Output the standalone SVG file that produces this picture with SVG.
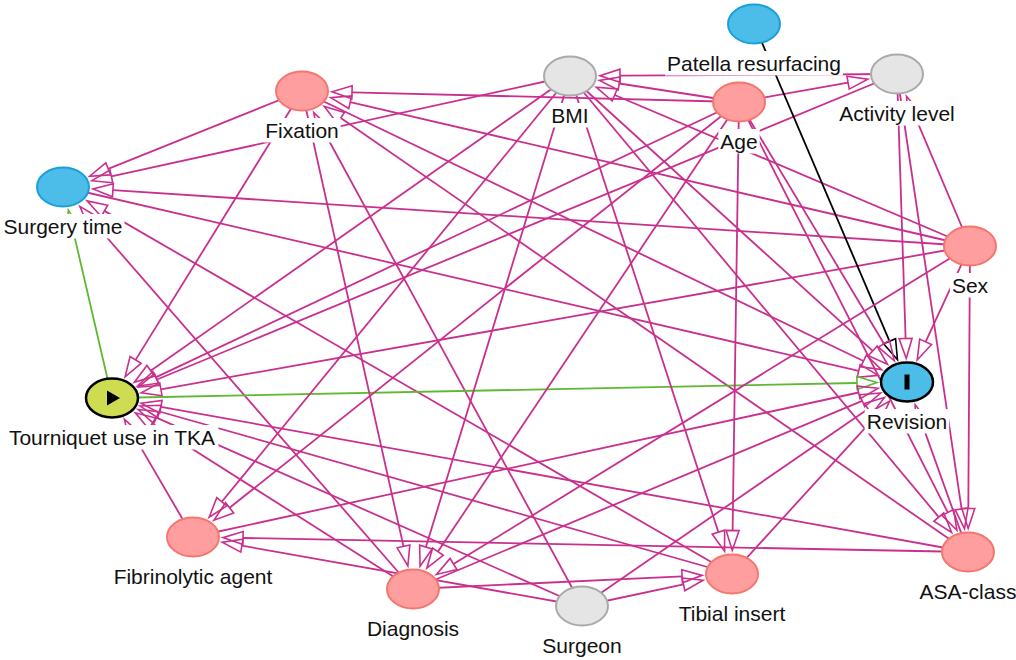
<svg xmlns="http://www.w3.org/2000/svg" width="1016" height="660" viewBox="0 0 1016 660">
<defs>
<style>
.e line{fill:none;stroke:#c9308e;stroke-width:1.8;marker-end:url(#ap)}
.e line.g{stroke:#5fb832;marker-end:url(#ag)}
.e line.k{stroke:#000;marker-end:url(#ab)}
.pk{fill:#ff9e9e;stroke:#f4766f;stroke-width:2}
.gy{fill:#e5e5e5;stroke:#aaaaaa;stroke-width:2}
.bl{fill:#4cbce8;stroke:#1a9fdc;stroke-width:2}
.ex{fill:#cddc50;stroke:#000;stroke-width:2.5}
.oc{fill:#4cbce8;stroke:#000;stroke-width:2.5}
.lb rect{fill:#fff}
.lb text{font-family:"Liberation Sans",Arial,sans-serif;font-size:21px;fill:#111;text-anchor:middle}
</style>
<marker id="ap" markerUnits="userSpaceOnUse" markerWidth="22" markerHeight="16" refX="0" refY="0" orient="auto" style="overflow:visible"><path d="M0,-6.5 L20,0 L0,6.5 Z" fill="none" stroke="#c9308e" stroke-width="1.6"/></marker>
<marker id="ag" markerUnits="userSpaceOnUse" markerWidth="22" markerHeight="16" refX="0" refY="0" orient="auto" style="overflow:visible"><path d="M0,-6.5 L20,0 L0,6.5 Z" fill="none" stroke="#5fb832" stroke-width="1.6"/></marker>
<marker id="ab" markerUnits="userSpaceOnUse" markerWidth="22" markerHeight="16" refX="0" refY="0" orient="auto" style="overflow:visible"><path d="M0,-6.5 L20,0 L0,6.5 Z" fill="none" stroke="#000" stroke-width="1.6"/></marker>
</defs>
<rect width="1016" height="660" fill="#fff"/>
<g id="connectors" class="e">
<line x1="739" y1="102" x2="619.2" y2="83.5"/>
<line x1="970" y1="246" x2="614.7" y2="95"/>
<line x1="897" y1="74" x2="620" y2="75.7"/>
<line x1="739" y1="102" x2="848.1" y2="82.7"/>
<line x1="970" y1="246" x2="914.3" y2="114.7"/>
<line x1="739" y1="102" x2="352" y2="92.3"/>
<line x1="970" y1="246" x2="350.2" y2="102.2"/>
<line x1="968" y1="552" x2="340.8" y2="117.9"/>
<line x1="582" y1="606" x2="323.3" y2="130.2"/>
<line x1="302" y1="91" x2="108.2" y2="168.8"/>
<line x1="570" y1="76" x2="111.4" y2="176.4"/>
<line x1="970" y1="246" x2="112.9" y2="190.2"/>
<line x1="413" y1="589" x2="93" y2="221.5"/>
<line x1="732" y1="574" x2="104.4" y2="210.9"/>
<line class="g" x1="112" y1="398" x2="72.9" y2="229.6"/>
<line x1="302" y1="91" x2="135.6" y2="359.9"/>
<line x1="570" y1="76" x2="150.7" y2="370.8"/>
<line x1="739" y1="102" x2="155.7" y2="377.4"/>
<line x1="897" y1="74" x2="157" y2="379.5"/>
<line x1="970" y1="246" x2="160.9" y2="389.3"/>
<line x1="968" y1="552" x2="160.9" y2="406.8"/>
<line x1="732" y1="574" x2="159.4" y2="411.5"/>
<line x1="582" y1="606" x2="156.4" y2="417.6"/>
<line x1="413" y1="589" x2="152.2" y2="423.5"/>
<line x1="193" y1="537" x2="134.5" y2="436.6"/>
<line class="k" x1="754" y1="24" x2="889.6" y2="341.3"/>
<line x1="897" y1="74" x2="905.6" y2="338.5"/>
<line x1="970" y1="246" x2="925.6" y2="341.8"/>
<line x1="968" y1="552" x2="921.9" y2="423.4"/>
<line x1="63" y1="187" x2="858.7" y2="370.9"/>
<line x1="302" y1="91" x2="863.5" y2="361"/>
<line x1="570" y1="76" x2="872.7" y2="350.9"/>
<line x1="739" y1="102" x2="884" y2="343.7"/>
<line class="g" x1="112" y1="398" x2="857" y2="383"/>
<line x1="193" y1="537" x2="858.6" y2="392.5"/>
<line x1="413" y1="589" x2="862.2" y2="400.8"/>
<line x1="582" y1="606" x2="868" y2="408.9"/>
<line x1="732" y1="574" x2="876.1" y2="415.9"/>
<line x1="302" y1="91" x2="403.5" y2="546.4"/>
<line x1="570" y1="76" x2="425.9" y2="547.1"/>
<line x1="739" y1="102" x2="438" y2="551.6"/>
<line x1="970" y1="246" x2="453.5" y2="564"/>
<line x1="739" y1="102" x2="229.6" y2="507.8"/>
<line x1="570" y1="76" x2="221.8" y2="501.8"/>
<line x1="968" y1="552" x2="243" y2="538"/>
<line x1="582" y1="606" x2="241.9" y2="545.7"/>
<line x1="739" y1="102" x2="732.6" y2="530.5"/>
<line x1="570" y1="76" x2="718.4" y2="532.2"/>
<line x1="413" y1="589" x2="682.1" y2="576.3"/>
<line x1="582" y1="606" x2="683.5" y2="584.4"/>
<line x1="897" y1="74" x2="961.6" y2="508.9"/>
<line x1="970" y1="246" x2="968.3" y2="508.5"/>
<line x1="739" y1="102" x2="947.8" y2="512.4"/>
<line x1="570" y1="76" x2="938.8" y2="517.1"/>
</g>
<g id="n-patella"><ellipse class="bl" cx="754" cy="24" rx="26" ry="19.5"/><g class="lb"><rect x="665" y="51" width="177.9" height="24.5"/><text x="754" y="71">Patella resurfacing</text></g></g>
<g id="n-bmi"><ellipse class="gy" cx="570" cy="76" rx="26" ry="19.5"/><g class="lb"><rect x="549.3" y="103" width="41.3" height="24.5"/><text x="570" y="123">BMI</text></g></g>
<g id="n-activity"><ellipse class="gy" cx="897" cy="74" rx="26" ry="19.5"/><g class="lb"><rect x="837.2" y="101" width="119.5" height="24.5"/><text x="897" y="121">Activity level</text></g></g>
<g id="n-fixation"><ellipse class="pk" cx="302" cy="91" rx="26" ry="19.5"/><g class="lb"><rect x="263.2" y="118" width="77.5" height="24.5"/><text x="302" y="138">Fixation</text></g></g>
<g id="n-age"><ellipse class="pk" cx="739" cy="102" rx="26" ry="19.5"/><g class="lb"><rect x="718.3" y="129" width="41.4" height="24.5"/><text x="739" y="149">Age</text></g></g>
<g id="n-surgerytime"><ellipse class="bl" cx="63" cy="187" rx="26" ry="19.5"/><g class="lb"><rect x="1.5" y="214" width="123" height="24.5"/><text x="63" y="234">Surgery time</text></g></g>
<g id="n-sex"><ellipse class="pk" cx="970" cy="246" rx="26" ry="19.5"/><g class="lb"><rect x="949.9" y="273" width="40.2" height="24.5"/><text x="970" y="293">Sex</text></g></g>
<g id="n-tourniquet"><ellipse class="ex" cx="112" cy="398" rx="26" ry="19.5"/><path d="M107,390.5 L120,398 L107,405.5 Z" fill="#000"/><g class="lb"><rect x="5.5" y="425" width="212.9" height="24.5"/><text x="112" y="445">Tourniquet use in TKA</text></g></g>
<g id="n-revision"><ellipse class="oc" cx="907" cy="382" rx="26" ry="19.5"/><rect x="904.5" y="374.5" width="5" height="15" fill="#000"/><g class="lb"><rect x="864.7" y="409" width="84.5" height="24.5"/><text x="907" y="429">Revision</text></g></g>
<g id="n-fibrinolytic"><ellipse class="pk" cx="193" cy="537" rx="26" ry="19.5"/><g class="lb"><rect x="111.6" y="564" width="162.7" height="24.5"/><text x="193" y="584">Fibrinolytic agent</text></g></g>
<g id="n-diagnosis"><ellipse class="pk" cx="413" cy="589" rx="26" ry="19.5"/><g class="lb"><rect x="364.9" y="616" width="96.2" height="24.5"/><text x="413" y="636">Diagnosis</text></g></g>
<g id="n-surgeon"><ellipse class="gy" cx="582" cy="606" rx="26" ry="19.5"/><g class="lb"><rect x="540.3" y="633" width="83.4" height="24.5"/><text x="582" y="653">Surgeon</text></g></g>
<g id="n-tibial"><ellipse class="pk" cx="732" cy="574" rx="26" ry="19.5"/><g class="lb"><rect x="676.3" y="601" width="111.4" height="24.5"/><text x="732" y="621">Tibial insert</text></g></g>
<g id="n-asa"><ellipse class="pk" cx="968" cy="552" rx="26" ry="19.5"/><g class="lb"><rect x="917.5" y="579" width="100.9" height="24.5"/><text x="968" y="599">ASA-class</text></g></g>
</svg>
